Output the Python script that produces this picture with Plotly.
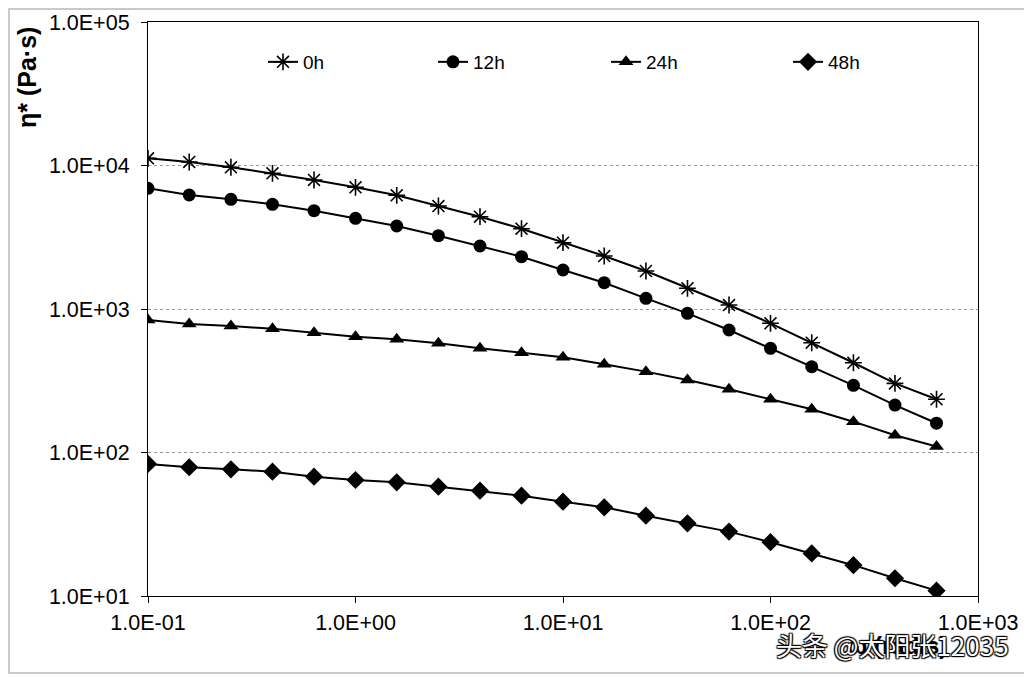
import plotly.graph_objects as go

omega = [0.1, 0.158, 0.251, 0.398, 0.631, 1.0, 1.58, 2.51, 3.98, 6.31,
         10.0, 15.8, 25.1, 39.8, 63.1, 100.0, 158.0, 251.0, 398.0, 631.0]

eta_0h = [11220, 10580, 9720, 8820, 7925, 7050, 6200, 5220, 4398, 3627,
          2897, 2340, 1840, 1394, 1066, 795, 582, 422, 303, 235]
eta_12h = [6935, 6230, 5813, 5364, 4842, 4286, 3788, 3243, 2748, 2315,
           1869, 1525, 1187, 933, 714, 532, 396, 294, 214, 160]
eta_24h = [838, 786, 761, 729, 683, 641, 615, 577, 532, 496,
           461, 412, 366, 320, 276, 235, 200, 164, 132, 110]
eta_48h = [83.2, 78.9, 76.4, 73.5, 67.8, 64.3, 62.0, 57.8, 54.2, 50.0,
           45.4, 41.5, 36.3, 32.1, 28.1, 23.7, 19.8, 16.4, 13.3, 10.9]

series_names = ["0h", "12h", "24h", "48h"]
x_tickvals = [0.1, 1, 10, 100, 1000]
x_ticktext = ["1.0E-01", "1.0E+00", "1.0E+01", "1.0E+02", "1.0E+03"]
y_tickvals = [10, 100, 1000, 10000, 100000]
y_ticktext = ["1.0E+01", "1.0E+02", "1.0E+03", "1.0E+04", "1.0E+05"]

FONT = "Liberation Sans, Arial, sans-serif"

# page offset (browser body margin)
OFF = 8
W, H = 1024, 669
L, T = 140, 14
pw, ph = 830, 574
R = W - L - pw
B = H - T - ph


def px(page_x):
    return (page_x - OFF - L) / pw


def py(page_y):
    return 1 - (page_y - OFF - T) / ph


styles = [
    dict(symbol="asterisk-open", size=14, line=dict(width=1.6, color="black")),
    dict(symbol="circle", size=13, color="black"),
    dict(symbol="triangle-up", size=13, color="black"),
    dict(symbol="diamond", size=14, color="black"),
]
legend_ids = ["legend", "legend2", "legend3", "legend4"]
legend_page_x = [263, 433, 606, 788]

fig = go.Figure()
for name, ys, st, lid in zip(series_names, [eta_0h, eta_12h, eta_24h, eta_48h], styles, legend_ids):
    fig.add_trace(go.Scatter(
        x=omega, y=ys, name=name, mode="lines+markers",
        line=dict(color="black", width=2),
        marker=st, legend=lid,
    ))

legend_cfg = {}
for lid, lx in zip(legend_ids, legend_page_x):
    legend_cfg[lid] = dict(
        x=px(lx), y=py(62), xanchor="left", yanchor="middle",
        font=dict(size=19, family=FONT, color="black"),
        bgcolor="rgba(0,0,0,0)", borderwidth=0,
    )

fig.update_layout(
    width=W, height=H,
    margin=dict(l=L, r=R, t=T, b=B, autoexpand=False),
    paper_bgcolor="white", plot_bgcolor="white",
    font=dict(family=FONT, color="black"),
    showlegend=True,
    xaxis=dict(
        type="log", range=[-1, 3],
        tickvals=x_tickvals, ticktext=x_ticktext,
        showgrid=False, zeroline=False,
        showline=True, linecolor="black", linewidth=1.2, mirror=True,
        ticks="outside", ticklen=6, tickcolor="black", tickwidth=1.2,
        tickfont=dict(size=21.5, family=FONT, color="black"),
        ticklabelstandoff=1,
    ),
    yaxis=dict(
        type="log", range=[1, 5],
        tickvals=y_tickvals, ticktext=y_ticktext,
        showgrid=True, gridcolor="#9a9a9a", griddash="dot", gridwidth=1,
        zeroline=False,
        showline=True, linecolor="black", linewidth=1.2, mirror=True,
        ticks="outside", ticklen=6, tickcolor="black", tickwidth=1.2,
        tickfont=dict(size=21.5, family=FONT, color="black"),
        ticklabelstandoff=7,
    ),
    shapes=[dict(
        type="rect", xref="paper", yref="paper",
        x0=px(9), x1=px(1029), y0=py(673), y1=py(9),
        line=dict(color="#b8b8b8", width=1.5), fillcolor="rgba(0,0,0,0)",
        layer="below",
    )],
    annotations=[
        dict(text="<b>η* (Pa·s)</b>", xref="paper", yref="paper",
             x=px(27), y=py(78), textangle=-90, showarrow=False,
             xanchor="center", yanchor="middle",
             font=dict(size=25, family=FONT, color="black")),
        dict(text="<b>ω (rad/s)</b>", xref="paper", yref="paper",
             x=px(897), y=py(645), showarrow=False,
             xanchor="center", yanchor="middle",
             font=dict(size=24, family=FONT, color="black")),
        dict(text="头条 @太阳张12035", xref="paper", yref="paper",
             x=px(892), y=py(644), showarrow=False,
             xanchor="center", yanchor="middle",
             font=dict(size=26, family="Noto Sans CJK SC", color="white",
                       shadow="1px 1px 1px #000, -1px -1px 1px #000, 1px -1px 1px #000, -1px 1px 1px #000")),
    ],
    **legend_cfg,
)

fig.write_html("out.html")
